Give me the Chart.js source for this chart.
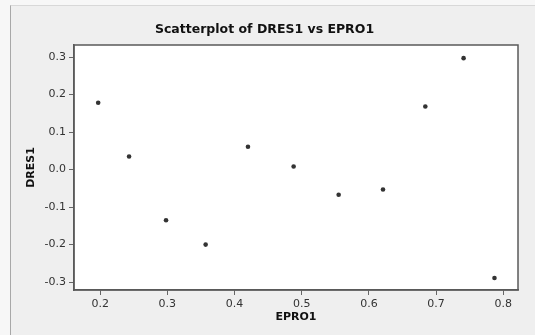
<!DOCTYPE html>
<html>
<head>
<meta charset="utf-8">
<script src="https://cdn.jsdelivr.net/npm/chart.js@4/dist/chart.umd.min.js"></script>
<style>
  html, body { margin: 0; padding: 0; background: #f7f7f7; }
  #frame {
    position: absolute; left: 10px; top: 5px; width: 524px; height: 329px;
    border-left: 1px solid #a8a8a8; border-top: 1px solid #d8d8d8;
    background: #efefef;
  }
  canvas { display: block; }
</style>
</head>
<body>
<div id="frame"><canvas id="c" width="524" height="329"></canvas></div>
<script>
// EPRO1 (x) and DRES1 (y)
var epro1 = [0.197, 0.243, 0.298, 0.357, 0.420, 0.488, 0.555, 0.621, 0.684, 0.741, 0.787];
var dres1 = [0.178, 0.035, -0.135, -0.200, 0.061, 0.008, -0.067, -0.053, 0.168, 0.297, -0.289];

var xTicks = [0.2, 0.3, 0.4, 0.5, 0.6, 0.7, 0.8];
var yTicks = [-0.3, -0.2, -0.1, 0.0, 0.1, 0.2, 0.3];

var points = epro1.map(function (x, i) { return { x: x, y: dres1[i] }; });

// white plot area with a dark frame, like Minitab
var plotBox = {
  id: 'plotBox',
  beforeDraw: function (chart) {
    var a = chart.chartArea, ctx = chart.ctx;
    ctx.save();
    ctx.fillStyle = '#ffffff';
    ctx.fillRect(a.left, a.top, a.right - a.left, a.bottom - a.top);
    ctx.restore();
  },
  afterDraw: function (chart) {
    var a = chart.chartArea, ctx = chart.ctx;
    ctx.save();
    ctx.strokeStyle = '#5a5a5a';
    ctx.lineWidth = 1.5;
    ctx.strokeRect(a.left, a.top, a.right - a.left, a.bottom - a.top);
    ctx.restore();
  }
};

new Chart(document.getElementById('c'), {
  type: 'scatter',
  data: {
    datasets: [{
      label: 'DRES1',
      data: points,
      pointRadius: 2.3,
      pointBackgroundColor: '#333333',
      pointBorderColor: '#333333',
      pointBorderWidth: 0
    }]
  },
  options: {
    responsive: false,
    animation: false,
    layout: { padding: { left: 0, right: 17, top: 0, bottom: 0 } },
    plugins: {
      legend: { display: false },
      tooltip: { enabled: false },
      title: {
        display: true,
        text: 'Scatterplot of DRES1 vs EPRO1',
        color: '#111111',
        font: { family: 'DejaVu Sans', size: 12.5, weight: 'bold' },
        padding: { top: 16, bottom: 8 }
      }
    },
    scales: {
      x: {
        type: 'linear',
        min: 0.161,
        max: 0.822,
        afterFit: function (s) { s.height = 45; },
        afterBuildTicks: function (s) { s.ticks = xTicks.map(function (v) { return { value: v }; }); },
        ticks: {
          color: '#333333',
          padding: 3,
          font: { family: 'DejaVu Sans', size: 11 },
          callback: function (v) { return v.toFixed(1); }
        },
        grid: { drawOnChartArea: false, tickLength: 5, tickColor: '#666666' },
        border: { color: '#5a5a5a', width: 1.5 },
        title: {
          display: true,
          text: 'EPRO1',
          color: '#111111',
          font: { family: 'DejaVu Sans', size: 11, weight: 'bold' },
          padding: { top: 0, bottom: 11 }
        }
      },
      y: {
        type: 'linear',
        min: -0.321,
        max: 0.332,
        afterFit: function (s) { s.width = 63; },
        afterBuildTicks: function (s) { s.ticks = yTicks.map(function (v) { return { value: v }; }); },
        ticks: {
          color: '#333333',
          padding: 3,
          font: { family: 'DejaVu Sans', size: 11 },
          callback: function (v) { return v.toFixed(1); }
        },
        grid: { drawOnChartArea: false, tickLength: 5, tickColor: '#666666' },
        border: { color: '#5a5a5a', width: 1.5 },
        title: {
          display: true,
          text: 'DRES1',
          color: '#111111',
          font: { family: 'DejaVu Sans', size: 11, weight: 'bold' },
          padding: { top: 14, bottom: 0 }
        }
      }
    }
  },
  plugins: [plotBox]
});
</script>
</body>
</html>
